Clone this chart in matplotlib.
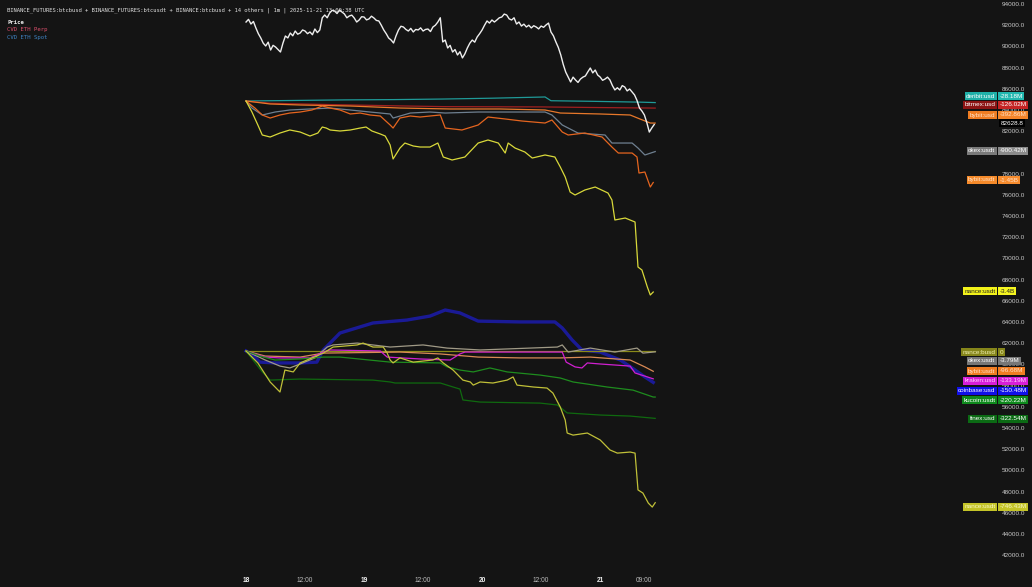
import numpy as np
import matplotlib
matplotlib.use("Agg")
import matplotlib.pyplot as plt

# ---------------- data ----------------
# BTC price, every 30 minutes from 2025-11-18 00:00 UTC
price = [92300, 92550, 92110, 92350, 91740, 91200, 90790, 90300, 90040, 90400,
         89660, 90100, 89940, 89700, 89470, 90300, 90980, 90800, 91260, 91000,
         91450, 91150, 91260, 91550, 91450, 91200, 91360, 91100, 91640, 91300,
         91550, 92700, 92960, 92700, 93150, 93400, 93340, 93100, 93430, 93250,
         93060, 92700, 92870, 92950, 92680, 92300, 92490, 92800, 92770, 92500,
         92590, 92850, 92680, 92450, 92400, 92000, 91550, 91200, 90790, 90600,
         90320, 91000, 91550, 91900, 91830, 91600, 91450, 91700, 91360, 91600,
         91550, 91750, 91450, 91600, 91640, 91400, 91830, 92000, 92300, 92700,
         90420, 90600, 89850, 90100, 89470, 89700, 89190, 89500, 88910, 89300,
         89850, 90300, 90600, 90400, 90890, 91200, 91550, 92000, 92400, 92200,
         92490, 92300, 92490, 92700, 92770, 93050, 92960, 92600, 92490, 92700,
         92110, 92300, 91920, 92100, 91830, 92000, 91740, 91950, 91830, 91650,
         91920, 91800, 92020, 92200, 91360, 91000, 90420, 89900, 89190, 88300,
         87580, 87100, 86640, 87100, 86830, 86600, 86920, 87100, 87210, 87600,
         87960, 87500, 87770, 87300, 87110, 86800, 86920, 87100, 86830, 86300,
         85890, 86100, 85890, 86300, 86170, 85800, 85980, 85700, 85420, 84900,
         84190, 83900, 83530, 82800, 81920, 82300, 82630]
price_hours = np.arange(len(price)) * 0.5

# CVD ETH Perp (millions)
deribit_h = [0, 10, 20, 30, 40, 50, 60, 60.8, 62, 70, 80, 83.2]
deribit_v = [0, 10, 20, 25, 35, 50, 70, 72, 5, -5, -20, -28]
bitmex_h = [0, 5, 15, 30, 40, 60, 70, 83.2]
bitmex_v = [0, -40, -60, -85, -100, -105, -115, -126]
bybitusd_h = [0, 4.9, 11, 21.2, 31.3, 41.5, 51.7, 60.8, 63.9, 72, 78.1, 80.1, 82.2, 83.2]
bybitusd_v = [0, -53, -71, -89, -125, -142, -142, -160, -214, -231, -249, -320, -392, -393]
okexp_h = [0, 1.2, 3.3, 5.9, 8.9, 13, 17.1, 21.2, 25.2, 29.3, 29.9, 33.4, 37.4, 40.5,
           47.2, 60.8, 62.2, 64.3, 67.5, 73, 74.4, 78.5, 79.7, 81.1, 83.2]
okexp_v = [0, -125, -249, -196, -160, -142, -125, -160, -196, -231, -303, -214, -196, -214,
           -196, -196, -249, -427, -570, -605, -748, -748, -837, -961, -900]
bybitp_h = [0, 1.8, 3.3, 4.9, 6.9, 8.9, 11, 13.4, 15.5, 17.1, 19.1, 21.2, 23.2, 25.2,
            27.3, 29.3, 29.9, 31.3, 33.4, 35.4, 37.4, 39.5, 40.5, 43.9, 47.2, 49.2,
            52.7, 56.1, 60.8, 62.2, 64.3, 65.5, 68.9, 72.4, 74.4, 75.7, 78.5, 79.5,
            79.9, 81.1, 82.2, 82.8]
bybitp_v = [0, -125, -249, -303, -249, -214, -196, -160, -89, -125, -160, -231, -214, -249,
            -267, -427, -481, -303, -267, -285, -267, -249, -481, -516, -427, -285,
            -320, -356, -392, -338, -552, -605, -570, -641, -819, -926, -926, -997,
            -1282, -1264, -1531, -1450]
binp_h = [0, 1.2, 2.4, 3.3, 4.9, 6.9, 8.9, 11, 13, 14.6, 15.5, 16.3, 17.1, 19.1, 21.2,
          23.2, 24.4, 25.6, 27.3, 28.3, 29.3, 29.9, 31.3, 32.3, 34, 35.4, 37.4, 39,
          40.1, 41.9, 44.5, 47.2, 49.2, 51.3, 52.7, 53.3, 54.7, 56.7, 58.2, 60.8,
          62.8, 63.9, 64.9, 65.9, 66.9, 68.9, 71, 73.6, 74.4, 75, 77.1, 79.1, 79.7,
          80.5, 81.6, 82.2, 82.8]
binp_v = [0, -196, -427, -605, -641, -570, -516, -552, -623, -570, -463, -481, -516,
          -534, -516, -481, -463, -534, -587, -623, -783, -1032, -837, -748, -801,
          -819, -819, -748, -997, -1050, -997, -748, -694, -748, -926, -748, -837,
          -908, -1015, -961, -997, -1175, -1353, -1620, -1673, -1584, -1531, -1638,
          -1762, -2118, -2083, -2154, -2955, -3008, -3311, -3453, -3400]

# CVD ETH Spot (millions)
busd_h = [0, 83.2]
busd_v = [0, 0]
okexs_h = [0, 3.9, 6.9, 8.9, 11, 14, 16.5, 17.7, 22.6, 29.3, 36, 40.9, 47.6, 63.3,
           64.3, 65.5, 70, 75, 79.5, 80.7, 83.2]
okexs_v = [0, -43, -72, -81, -62, -33, 19, 29, 38, 19, 29, 14, 5, 19, 29, -5, 14, -5,
           14, -10, -4]
bybits_h = [0, 3.9, 11, 15.7, 31.3, 39.5, 47.2, 55.7, 63.9, 70, 78.1, 81.1, 82.8]
bybits_v = [0, -24, -29, -10, -5, -14, -29, -33, -33, -29, -43, -76, -97]
kraken_h = [0, 1.8, 3.9, 6.9, 13, 15.7, 17.1, 27.3, 28.7, 35.4, 41.5, 43.5, 44.5,
            55.7, 64.3, 65.1, 66.9, 68.3, 69.4, 72, 78.1, 79.1, 81.1, 82.8]
kraken_v = [0, -14, -29, -33, -33, -5, 5, 0, -29, -38, -43, -14, -5, -5, -5, -53,
            -76, -81, -57, -62, -72, -105, -120, -133]
coinbase_h = [0, 1.4, 2.8, 5.9, 11, 14.4, 15.7, 17.1, 19.1, 25.8, 32.7, 37.4, 40.5,
              43.5, 47.2, 55.7, 62.8, 64.3, 66.3, 68.3, 72, 76.1, 78.5, 81.1, 82.8]
coinbase_v = [0, -19, -53, -57, -57, -53, 5, 38, 86, 134, 148, 167, 196, 182, 143,
              139, 139, 110, 53, 5, -5, -43, -81, -124, -150]
kucoin_h = [0, 2.8, 5.9, 11, 15.7, 19.1, 29.3, 39.5, 40.9, 43.5, 46.2, 49.6, 53.1,
            59.8, 63.9, 66.5, 73.4, 78.7, 82.8, 83.2]
kucoin_v = [0, -24, -43, -38, -29, -29, -53, -57, -76, -91, -100, -81, -100, -115,
            -129, -148, -172, -187, -220, -220]
finex_h = [0, 3.3, 4.9, 11, 25.8, 29.3, 30.3, 39.5, 42.1, 43.5, 44.1, 47.6, 59.8,
           63.3, 65.3, 72, 78.1, 83.2]
finex_v = [0, -100, -139, -134, -139, -148, -153, -153, -172, -182, -234, -244, -249,
           -258, -296, -306, -311, -322]
bins_h = [0, 2.4, 4.9, 6.9, 7.9, 9.6, 11, 12.4, 15.7, 17.7, 22.6, 23.8, 25.8, 27.9,
          28.7, 29.3, 29.9, 31.3, 34, 38, 39, 40.1, 42.1, 44.1, 45.6, 46.2, 47.6,
          50.2, 53.1, 54.3, 55.1, 58.4, 61.2, 62.4, 63.9, 64.9, 65.3, 66.5, 69.4,
          72, 74, 75.5, 78.1, 79.1, 79.7, 80.7, 81.8, 82.6, 83.2]
bins_v = [0, -57, -148, -196, -91, -100, -57, -43, -10, 19, 29, 38, 19, 19, -10, -43,
          -57, -33, -53, -43, -33, -57, -91, -139, -148, -163, -148, -153, -139,
          -124, -163, -172, -177, -201, -268, -330, -392, -402, -392, -425, -473,
          -488, -483, -488, -664, -679, -727, -746, -725]

# x-axis tick labels
xtick_hours = [0, 12, 24, 36, 48, 60, 72, 81]
xtick_labels = ["18", "12:00", "19", "12:00", "20", "12:00", "21", "09:00"]
ytick_values = list(range(42000, 94001, 2000))

# right-side labels
perp_names = ["deribit:usd", "bitmex:usd", "bybit:usd", "okex:usdt", "bybit:usdt", "nance:usdt"]
perp_vals = ["-28.18M", "-126.02M", "-392.86M", "-900.42M", "-1.45B", "-3.4B"]
spot_names = ["nance:busd", "okex:usdt", "bybit:usdt", "kraken:usd", "coinbase:usd",
              "kucoin:usdt", "finex:usd", "nance:usdt"]
spot_vals = ["0", "-3.79M", "-96.68M", "-133.19M", "-150.48M", "-220.22M", "-322.54M", "-746.43M"]

# ---------------- style / layout ----------------
W, H = 1032, 587
BG = "#141414"
FONT = "Liberation Sans"
perp_line_colors = ["#1f9a98", "#a02020", "#e8782a", "#6f8090", "#e5651f", "#d8d83a"]
perp_box_colors = ["#1fb0a8", "#8c1414", "#f07d22", "#7a7a7a", "#f58a2a", "#f2f21a"]
perp_val_colors = ["#22b8b0", "#c42424", "#f5852a", "#8a8a8a", "#f78c2e", "#f5f520"]
perp_txt_colors = ["white", "white", "#ffe0c8", "white", "#ffe0c8", "#202020"]
perp_label_y = [96, 105, 115, 151, 180, 291]

spot_line_colors = ["#8a8a1a", "#a09a86", "#d98a55", "#d020d0", "#1c1cb8", "#1e8c1e",
                    "#0f6a0f", "#c0c038"]
spot_box_colors = ["#85851a", "#777777", "#f07d22", "#d81ed8", "#1010e8", "#0e8a1c",
                   "#0b6a14", "#c4c428"]
spot_txt_colors = ["#f0f0b0", "white", "#ffe0c8", "#ffd0ff", "white", "white",
                   "white", "#f8f8c8"]
spot_label_y = [352, 361, 371, 381, 391, 400, 419, 507]

fig = plt.figure(figsize=(W / 100, H / 100), dpi=100, facecolor=BG)
ax_h_px = 567
ax = fig.add_axes([0, (H - ax_h_px) / H, 997 / W, ax_h_px / H], facecolor=BG)
ax.set_xlim(-50.03, 152.7)
ax.set_ylim(40886, 94377)

ax_perp = ax.twinx()
ax_perp.set_ylim(-8295, 1798)
ax_spot = ax.twinx()
ax_spot.set_ylim(-1032.5, 1678)
ax_px = ax.twinx()
ax_px.set_ylim(ax.get_ylim())

for a in (ax, ax_perp, ax_spot, ax_px):
    for s in a.spines.values():
        s.set_visible(False)
for a in (ax_perp, ax_spot, ax_px):
    a.set_yticks([])
    a.patch.set_visible(False)

# perp lines
perp_series = [(deribit_h, deribit_v), (bitmex_h, bitmex_v), (bybitusd_h, bybitusd_v),
               (okexp_h, okexp_v), (bybitp_h, bybitp_v), (binp_h, binp_v)]
for (hh, vv), c in zip(perp_series, perp_line_colors):
    ax_perp.plot(hh, vv, color=c, lw=0.9)

spot_series = [(busd_h, busd_v), (okexs_h, okexs_v), (bybits_h, bybits_v),
               (kraken_h, kraken_v), (coinbase_h, coinbase_v), (kucoin_h, kucoin_v),
               (finex_h, finex_v), (bins_h, bins_v)]
for i, ((hh, vv), c) in enumerate(zip(spot_series, spot_line_colors)):
    lw = 2.4 if i == 4 else 0.9
    alpha = 0.8 if i == 4 else 1.0
    z = 1 if i == 4 else 2
    ax_spot.plot(hh, vv, color=c, lw=lw, alpha=alpha, zorder=z)

# price line on top
ax_px.plot(price_hours, price, color="#eeeeee", lw=1.0)

# axes ticks
ax.yaxis.tick_right()
ax.set_yticks(ytick_values)
ax.set_yticklabels([f"{v:.1f}" for v in ytick_values], fontsize=4.6, color="#c8c8c8",
                   family=FONT)
ax.tick_params(axis="y", length=0, pad=3.5)
ax.set_xticks(xtick_hours)
ax.set_xticklabels(xtick_labels, fontsize=4.8, color="#bbbbbb", family=FONT)
for lab, txt in zip(ax.get_xticklabels(), xtick_labels):
    if ":" not in txt:
        lab.set_fontweight("bold")
        lab.set_color("#eeeeee")
ax.tick_params(axis="x", length=0, pad=7)


def fx(px):
    return px / W


def fy(py):
    return 1 - py / H


def tag(name, val, y, box, valbox, txtc):
    fig.text(fx(995.5), fy(y), name, ha="right", va="center", fontsize=4.6, color=txtc,
             family=FONT, bbox=dict(boxstyle="square,pad=0.25", fc=box, ec="none"), zorder=10)
    fig.text(fx(999.5), fy(y), val, ha="left", va="center", fontsize=4.6, color=txtc,
             family=FONT, bbox=dict(boxstyle="square,pad=0.25", fc=valbox, ec="none"), zorder=10)


for n, v, y, b, vb, t in zip(perp_names, perp_vals, perp_label_y, perp_box_colors,
                             perp_val_colors, perp_txt_colors):
    tag(n, v, y, b, vb, t)
for n, v, y, b, t in zip(spot_names, spot_vals, spot_label_y, spot_box_colors,
                         spot_txt_colors):
    tag(n, v, y, b, b, t)

# last price label
fig.text(fx(1001), fy(123), f"{price[-1] - 1.2:.1f}", ha="left", va="center", fontsize=4.6,
         color="white", family=FONT,
         bbox=dict(boxstyle="square,pad=0.25", fc="#000000", ec="none"), zorder=10)

# header
MONO = "DejaVu Sans Mono"
fig.text(fx(7), fy(10), "BINANCE_FUTURES:btcbusd + BINANCE_FUTURES:btcusdt + BINANCE:btcbusd + 14 others | 1m | 2025-11-21 13:00:38 UTC",
         ha="left", va="center", fontsize=3.95, color="#e0e0e0", family=MONO)
fig.text(fx(7), fy(23), "Price", ha="left", va="center", fontsize=4.1, color="#e8e8e8",
         family=MONO, fontweight="bold")
fig.text(fx(7), fy(30), "CVD ETH Perp", ha="left", va="center", fontsize=4.1, color="#e0506e",
         family=MONO)
fig.text(fx(7), fy(37), "CVD ETH Spot", ha="left", va="center", fontsize=4.1, color="#3f86c8",
         family=MONO)

fig.savefig("out.png", dpi=100, facecolor=BG)
